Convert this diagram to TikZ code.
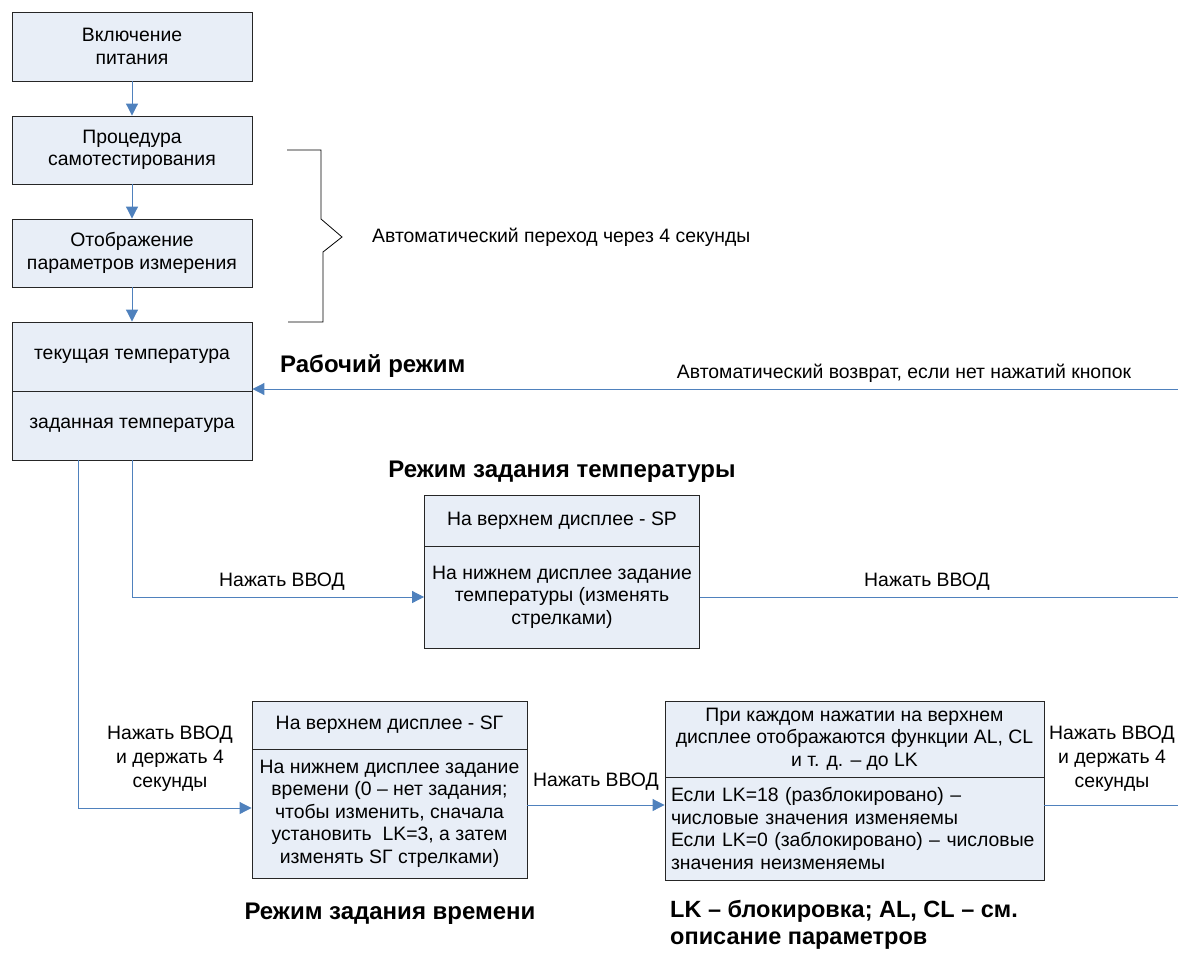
\documentclass[tikz,border=0pt]{standalone}
\usepackage{fontspec}
\setmainfont{Liberation Sans}
\usetikzlibrary{arrows.meta}
\definecolor{boxfill}{HTML}{E8EEF7}
\definecolor{arrowc}{HTML}{4F81BD}
\begin{document}
\begin{tikzpicture}[x=1pt,y=-1pt,
 box/.style={draw=black!85, fill=boxfill, line width=0.9pt, inner sep=2pt, align=center, font=\fontsize{19.4}{22.5}\selectfont, anchor=center},
 conn/.style={draw=arrowc, line width=1pt},
 arr/.style={conn, -{Triangle[length=12pt,width=12pt]}},
 lbl/.style={font=\fontsize{19.4}{24}\selectfont, align=center, inner sep=0pt},
 ttl/.style={font=\fontsize{24}{27}\selectfont\bfseries, inner sep=0pt}]
\useasboundingbox (0,0) rectangle (1178,958);
% left column
\node[box, minimum width=240pt, minimum height=69pt] (b1) at (132,46.5) {Включение\\питания};
\node[box, minimum width=240pt, minimum height=68pt] (b2) at (132,150) {Процедура\\самотестирования};
\node[box, minimum width=240pt, minimum height=68pt] (b3) at (132,253) {Отображение\\параметров измерения};
\node[box, minimum width=240pt, minimum height=69pt] (b4t) at (132,356.5) {текущая температура};
\node[box, minimum width=240pt, minimum height=69pt] (b4b) at (132,425.5) {заданная температура};
% SP box
\node[box, minimum width=275pt, minimum height=51pt] (spT) at (562,520.5) {На верхнем дисплее - SP};
\node[box, minimum width=275pt, minimum height=102pt] (spB) at (562,597) {На нижнем дисплее задание\\температуры (изменять\\стрелками)};
% SG box
\node[box, minimum width=275pt, minimum height=48pt] (sgT) at (389.5,725) {На верхнем дисплее - SГ};
\node[box, minimum width=275pt, minimum height=129pt] (sgB) at (389.5,813.5) {На нижнем дисплее задание\\времени (0 – нет задания;\\чтобы изменить, сначала\\установить\ \ LK=3, а затем\\изменять SГ стрелками)};
% LK box
\node[box, minimum width=379pt, minimum height=76pt] (lkT) at (854.5,739) {При каждом нажатии на верхнем\\дисплее отображаются функции AL, CL\\и т. д. – до LK};
\node[box, minimum width=379pt, minimum height=103pt, align=left, text width=367pt] (lkB) at (854.5,828.5) {Если LK=18 (разблокировано) –\\числовые значения изменяемы\\Если LK=0 (заблокировано) – числовые\\значения неизменяемы};
% coordinates
\coordinate (r1) at (1178,389);
\coordinate (c1) at (78,808);
\coordinate (m1) at (0,805);
% arrows
\draw[arr] (b1) -- (b2);
\draw[arr] (b2) -- (b3);
\draw[arr] (b3) -- (b4t);
\draw[arr] (r1) -- (r1 -| b4t.east);
\draw[arr] (b4b.south) |- (spB.west);
\draw[conn] (spB.east) -- (spB.east -| r1);
\draw[arr] (b4b.south -| c1) |- (c1 -| sgB.west);
\draw[arr] (sgB.east |- m1) -- (lkB.west |- m1);
\draw[conn] (lkB.east |- m1) -- (m1 -| r1);
% brace
\draw[black, line width=0.8pt] (287,150) -- (321,150) -- (321,219) -- (342,237) -- (323,252) -- (323,322) -- (288,322);
% labels
\node[lbl, anchor=west] (tAuto) at (372,237) {Автоматический переход через 4 секунды};
\node[ttl, anchor=west] (tWork) at (280,366) {Рабочий режим};
\node[lbl] (tRet) at (904,373) {Автоматический возврат, если нет нажатий кнопок};
\node[ttl] (tSP) at (562,472) {Режим задания температуры};
\node[lbl] (l1) at (282,582) {Нажать ВВОД};
\node[lbl] (l2) at (927,582) {Нажать ВВОД};
\node[lbl] (l3) at (170,759) {Нажать ВВОД\\и держать 4\\секунды};
\node[lbl] (l4) at (596,782) {Нажать ВВОД};
\node[lbl] (l5) at (1112,759) {Нажать ВВОД\\и держать 4\\секунды};
\node[ttl] (tSG) at (390,914) {Режим задания времени};
\node[ttl, font=\fontsize{23.5}{27}\selectfont\bfseries, anchor=north west, align=left] (tLK) at (670,900) {LK – блокировка; AL, CL – см.\\описание параметров};
\end{tikzpicture}
\end{document}
